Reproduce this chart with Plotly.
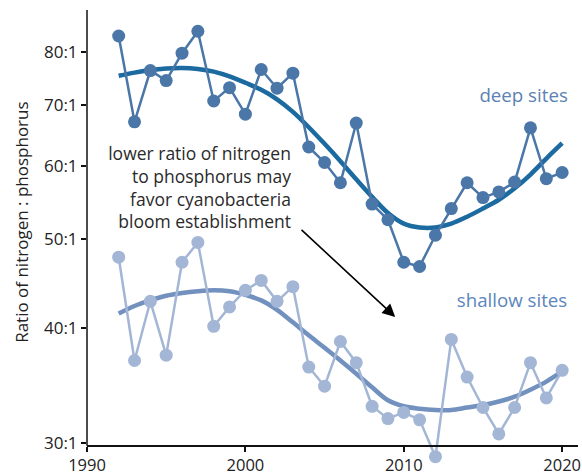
import math
import plotly.graph_objects as go

years = list(range(1992, 2021))

deep_ratio = [83.2, 67.1, 76.3, 74.4, 79.7, 84.2, 70.7, 73.1, 68.4, 76.5,
              73.0, 75.8, 63.0, 60.6, 57.6, 66.9, 54.6, 52.5, 47.2, 46.7,
              50.5, 54.0, 57.6, 55.5, 56.3, 57.7, 66.1, 58.2, 59.1]

deep_fit = [75.3, 75.9, 76.4, 76.7, 76.8, 76.6, 76.1, 75.2, 74.0, 72.7,
            71.0, 68.8, 66.2, 63.5, 60.8, 58.1, 55.6, 53.4, 52.0, 51.5,
            51.5, 52.0, 52.9, 54.0, 55.2, 56.8, 58.8, 61.2, 63.6]

shallow_ratio = [47.8, 36.9, 42.8, 37.4, 47.2, 49.6, 40.2, 42.2, 44.0, 45.1,
                 42.8, 44.4, 36.3, 34.6, 38.7, 36.7, 32.9, 31.9, 32.4, 31.8,
                 29.0, 38.9, 35.4, 32.8, 30.7, 32.8, 36.7, 33.6, 36.0]

shallow_fit = [41.5, 42.3, 42.9, 43.4, 43.7, 43.9, 44.0, 43.9, 43.5, 42.9,
               41.9, 40.6, 39.3, 38.1, 36.9, 35.7, 34.5, 33.4, 32.9, 32.7,
               32.6, 32.6, 32.8, 33.0, 33.3, 33.7, 34.3, 35.0, 35.9]

y_tick_vals = [30, 40, 50, 60, 70, 80]
y_tick_text = ["30:1", "40:1", "50:1", "60:1", "70:1", "80:1"]
x_tick_vals = [1990, 2000, 2010, 2020]

FONT = "Source Sans Pro, Source Sans 3, Lato, sans-serif"
DEEP_PT = "#4a76a8"
DEEP_FIT = "#1b6aa0"
SHAL_PT = "#a3b6d5"
SHAL_FIT = "#7291bf"

y_min, y_max = 28.4, 88.8
y_axis_val = 29.8
axis_frac = (math.log10(y_axis_val) - math.log10(y_min)) / (math.log10(y_max) - math.log10(y_min))

fig = go.Figure()
fig.add_trace(go.Scatter(x=years, y=shallow_fit, mode="lines",
                         line=dict(color=SHAL_FIT, width=4.5, shape="spline"),
                         hoverinfo="skip"))
fig.add_trace(go.Scatter(x=years, y=deep_fit, mode="lines",
                         line=dict(color=DEEP_FIT, width=4.5, shape="spline"),
                         hoverinfo="skip"))
fig.add_trace(go.Scatter(x=years, y=shallow_ratio, mode="lines+markers",
                         line=dict(color=SHAL_PT, width=2.5),
                         marker=dict(color=SHAL_PT, size=13),
                         cliponaxis=False))
fig.add_trace(go.Scatter(x=years, y=deep_ratio, mode="lines+markers",
                         line=dict(color=DEEP_PT, width=2.5),
                         marker=dict(color=DEEP_PT, size=13),
                         cliponaxis=False))

fig.update_layout(
    width=582, height=476,
    margin=dict(l=87, r=4, t=10, b=11),
    paper_bgcolor="white", plot_bgcolor="white",
    showlegend=False,
    font=dict(family=FONT, size=17, color="#222222"),
    xaxis=dict(range=[1990, 2021], tickvals=x_tick_vals,
               showgrid=False, zeroline=False,
               showline=True, linecolor="#111111", linewidth=1.5,
               ticks="outside", ticklen=5, tickwidth=1.5, tickcolor="#111111",
               anchor="free", position=axis_frac, automargin=False,
               tickfont=dict(size=16.5, family=FONT, color="#222222")),
    yaxis=dict(type="log", range=[math.log10(y_min), math.log10(y_max)],
               tickvals=y_tick_vals, ticktext=y_tick_text,
               showgrid=False, zeroline=False, showline=False, automargin=False,
               ticks="outside", ticklen=5, tickwidth=1.5, tickcolor="#111111",
               tickfont=dict(size=17, family=FONT, color="#222222")),
    shapes=[dict(type="line", xref="paper", yref="paper",
                 x0=0, x1=0, y0=axis_frac, y1=1,
                 line=dict(color="#111111", width=1.5))],
)

fig.add_annotation(text="Ratio of nitrogen : phosphorus", textangle=-90,
                   xref="paper", yref="paper", x=-0.1324, y=0.534,
                   xanchor="center", yanchor="middle",
                   showarrow=False, font=dict(size=17, family=FONT, color="#222222"))

fig.add_annotation(text="lower ratio of nitrogen<br>to phosphorus may<br>favor cyanobacteria<br>bloom establishment",
                   xref="x", yref="y", x=2003.0, y=math.log10(56.8),
                   xanchor="right", yanchor="middle", align="right",
                   showarrow=False,
                   font=dict(size=17.5, family=FONT, color="#2a2a2a"))

fig.add_annotation(xref="x", yref="y", axref="x", ayref="y",
                   x=2009.46, y=1.6144, ax=2003.45, ay=1.7107,
                   text="", showarrow=True, arrowhead=2, arrowsize=1.6,
                   arrowwidth=1.6, arrowcolor="#000000")

fig.add_annotation(text="deep sites", xref="x", yref="y",
                   x=2020.02, y=1.8559, xanchor="right", yanchor="middle",
                   showarrow=False, font=dict(size=18.7, family=FONT, color="#5b82b2"))
fig.add_annotation(text="shallow sites", xref="x", yref="y",
                   x=2020.02, y=1.6319, xanchor="right", yanchor="middle",
                   showarrow=False, font=dict(size=18.7, family=FONT, color="#5b86bc"))

fig.write_html("out.html",
               config={"displayModeBar": False},
               post_script="document.body.style.margin='0';document.body.style.padding='0';")
